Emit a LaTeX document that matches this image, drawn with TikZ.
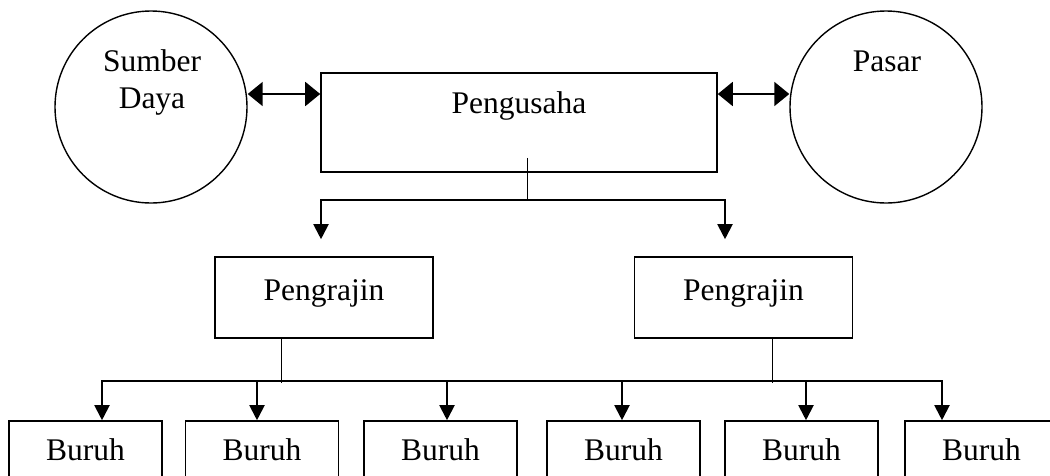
\documentclass[tikz,border=0pt]{standalone}
\usepackage{fontspec}
\setmainfont{Liberation Serif}
\usetikzlibrary{arrows.meta}
\begin{document}
\begin{tikzpicture}[x=1pt, y=-1pt,
  every node/.style = {font=\fontsize{31.5}{37}\selectfont, inner sep=0pt},
  box/.style = {shape=rectangle, draw, line width=1.6pt},
  orb/.style = {shape=circle, draw, line width=1.4pt, minimum size=192pt},
  worker/.style = {box, minimum width=153pt, text height=39.5pt, text depth=40.5pt},
  crafter/.style = {box, minimum width=218pt, text height=43.5pt, text depth=37.5pt},
  bus/.style = {line width=2pt, line cap=rect},
  trunk/.style = {line width=1pt},
  conn/.style = {line width=2pt, -{Triangle[length=15pt, width=15pt]}},
  link/.style = {line width=2pt,
    {Triangle[length=15pt, width=24pt]}-{Triangle[length=15pt, width=24pt]}}]
  \useasboundingbox (0,0) rectangle (1050,475);
  \node[orb] (sumber) at (151,107) {};
  \node[align=center] (sumberlbl) at (152,82.7) {Sumber\\Daya};
  \node[orb] (pasar) at (886,107) {};
  \node[anchor=base] (pasarlbl) at (887,71.5) {Pasar};
  \node[box, minimum width=396pt, text height=40.5pt, text depth=58.5pt]
    (usaha) at (519,122.5) {Pengusaha};
  \node[crafter] (rajinA) at (324,297.5) {Pengrajin};
  \node[crafter] (rajinB) at (743.5,297.5) {Pengrajin};
  \foreach \x [count=\i] in {85.5,262,440.5,623.5,801.5,981.5}
    \node[worker] (buruh\i) at (\x,461) {Buruh};
  \draw[link] (sumber.east |- 0,94) -- (usaha.west |- 0,94);
  \draw[link] (usaha.east |- 0,94) -- (pasar.west |- 0,94);
  \coordinate (fork) at (527,200);
  \coordinate (forkL) at (321,200);
  \coordinate (forkR) at (725,200);
  \draw[trunk] ([xshift=8pt, yshift=15pt]usaha.south) -- (fork);
  \draw[bus] (forkL) -- (forkR);
  \draw[conn, shorten >=17pt] (forkL) -- (forkL |- rajinA.north);
  \draw[conn, shorten >=17pt] (forkR) -- (forkR |- rajinB.north);
  \draw[trunk] ([xshift=-43pt]rajinA.south) -- ++(0,44);
  \draw[trunk] ([xshift=28.5pt]rajinB.south) -- ++(0,44);
  \foreach \x [count=\i] in {102,257,447,622,806,942}
    \coordinate (bus\i) at (\x,381);
  \draw[bus] (bus1) -- (bus6);
  \foreach \i in {1,...,6}
    \draw[conn] (bus\i) -- (bus\i |- buruh\i.north);
\end{tikzpicture}
\end{document}
